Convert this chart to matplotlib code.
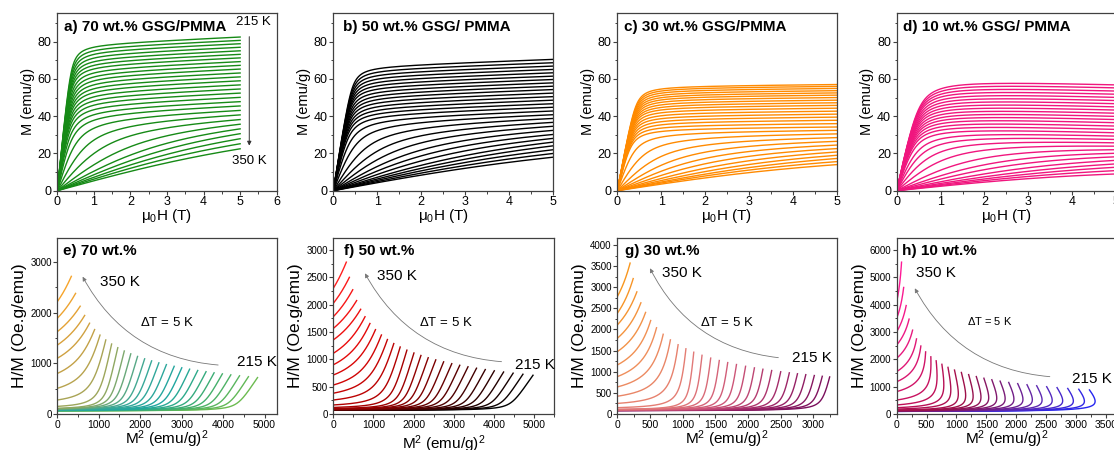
import numpy as np
import matplotlib
matplotlib.use("Agg")
import matplotlib.pyplot as plt
from matplotlib.colors import LinearSegmentedColormap
from matplotlib.ticker import MultipleLocator
from matplotlib.patches import FancyArrowPatch

plt.rcParams['font.family'] = ['Liberation Sans', 'DejaVu Sans']
plt.rcParams['mathtext.fontset'] = 'custom'
plt.rcParams['mathtext.rm'] = 'Liberation Sans'
plt.rcParams['mathtext.it'] = 'Liberation Sans:italic'
plt.rcParams['mathtext.bf'] = 'Liberation Sans:bold'
plt.rcParams['mathtext.default'] = 'regular'

# ---------------------------------------------------------------- data
# isotherms from 215 K to 350 K in 5 K steps
temperatures = list(range(215, 351, 5))
FIELD_MAX_OE = 50000.0

# magnetization at 5 T (emu/g) and low-field H/M (Oe.g/emu), 215 K -> 350 K
m5_70_mh = [82.5, 80.7, 78.9, 77.0, 75.1, 73.2, 71.3, 69.3, 67.3, 65.3, 63.2, 61.1, 59.0, 56.8,
            54.6, 52.4, 50.1, 47.8, 45.5, 43.1, 40.7, 38.2, 35.7, 33.2, 30.6, 27.9, 25.2, 22.5]
hm0_70_mh = [52, 53, 54, 55, 56, 57, 58, 60, 62, 64, 66, 68, 70, 73,
             76, 80, 86, 97, 115, 160, 260, 426, 672, 924, 1143, 1366, 1588, 1863]

m5_70_arrott = [69.5, 67.9, 66.3, 64.7, 63.1, 61.5, 59.9, 58.2, 56.5, 54.8, 53.1, 51.3, 49.5, 47.7,
                45.9, 44.0, 42.1, 40.2, 38.2, 36.2, 34.2, 32.1, 30.0, 27.9, 25.7, 23.5, 21.0, 18.4]
hm0_70_arrott = [63, 64, 65, 66, 67, 68, 70, 72, 74, 76, 78, 81, 84, 87,
                 90, 94, 99, 104, 113, 150, 276, 507, 800, 1100, 1360, 1625, 1890, 2217]

m5_50 = [70.5, 68.7, 66.9, 65.1, 63.3, 61.5, 59.7, 57.9, 56.1, 54.3, 52.4, 50.5, 48.6, 46.7,
         44.8, 42.8, 40.8, 38.8, 36.7, 34.6, 32.4, 30.2, 28.1, 26.1, 24.1, 22.0, 20.0, 18.0]
hm0_50 = [68, 69, 70, 71, 72, 73, 74, 76, 78, 80, 82, 85, 88, 92,
          100, 120, 165, 256, 380, 530, 713, 900, 1110, 1355, 1565, 1780, 2025, 2300]

m5_30 = [57.0, 56.0, 54.9, 53.7, 52.5, 51.3, 50.0, 48.6, 47.2, 45.8, 44.3, 42.7, 41.1, 39.5,
         37.8, 36.0, 34.2, 32.4, 30.5, 28.5, 26.5, 24.5, 22.6, 20.8, 19.0, 17.3, 15.6, 14.0]
hm0_30 = [81, 82, 83, 84, 85, 86, 87, 88, 89, 90, 92, 94, 96, 99,
          102, 105, 110, 150, 250, 420, 640, 884, 1160, 1475, 1791, 2107, 2383, 2777]

m5_10 = [56.8, 55.2, 53.5, 51.8, 50.1, 48.4, 46.7, 45.0, 43.3, 41.6, 39.9, 38.2, 36.5, 34.7,
         32.9, 31.1, 29.3, 27.5, 25.7, 23.9, 22.0, 20.1, 18.2, 16.3, 14.4, 12.6, 10.8, 9.0]
hm0_10 = [95, 96, 97, 98, 100, 102, 104, 106, 108, 111, 114, 117, 121, 126,
          132, 145, 180, 230, 330, 510, 820, 1180, 1550, 2040, 2525, 3010, 3500, 4110]

# demagnetizing factor (Oe.g/emu) and high-field susceptibility (emu/g/Oe)
demag = {'70mh': 45, '70ar': 54, '50': 60, '30': 70, '10': 65}
chi_hf = {'70mh': 0.9e-4, '70ar': 0.75e-4, '50': 0.85e-4, '30': 0.2e-4, '10': -0.7e-4}

panel_titles_top = ['a) 70 wt.% GSG/PMMA', 'b) 50 wt.% GSG/ PMMA',
                    'c) 30 wt.% GSG/PMMA', 'd) 10 wt.% GSG/ PMMA']
panel_titles_bottom = ['e) 70 wt.%', 'f) 50 wt.%', 'g) 30 wt.%', 'h) 10 wt.%']

# ---------------------------------------------------------------- model
def langevin(x):
    x = np.asarray(x, float)
    out = np.empty_like(x)
    small = x < 1e-4
    out[small] = x[small] / 3.0
    xs = x[~small]
    out[~small] = 1.0 / np.tanh(xs) - 1.0 / xs
    return out


def isotherm(m_end, hm0, n_d, chi):
    """M(H) curve through M(5 T)=m_end with low-field H/M=hm0."""
    hi_end = FIELD_MAX_OE - n_d * m_end
    k = 1.0 / (hm0 - n_d) - chi
    target = m_end - chi * hi_end
    lo, hi = np.log(1e-2), np.log(1e8)
    for _ in range(200):
        mid = 0.5 * (lo + hi)
        h0 = np.exp(mid)
        val = 3 * k * h0 * langevin(np.array([hi_end / h0]))[0]
        if val < target:
            lo = mid
        else:
            hi = mid
    h0 = np.exp(0.5 * (lo + hi))
    ms = 3 * k * h0
    hi_grid = np.concatenate([[0.0], np.geomspace(0.5, hi_end, 700)])
    m = ms * langevin(hi_grid / h0) + chi * hi_grid
    h = hi_grid + n_d * m
    return h, m


# ---------------------------------------------------------------- figure
W, H = 1114, 450
fig = plt.figure(figsize=(W / 100, H / 100), dpi=100)


def px_axes(left, top, width, height):
    return fig.add_axes([left / W, 1 - (top + height) / H, width / W, height / H])


FRAME = '#404040'


def style(ax, xt, yt, fs_x, fs_y):
    for s in ax.spines.values():
        s.set_color(FRAME)
        s.set_linewidth(0.9)
    ax.tick_params(which='both', direction='out', color=FRAME, top=False, right=False)
    ax.tick_params(which='major', length=3, width=0.8, pad=1)
    ax.tick_params(which='minor', length=1.8, width=0.7)
    ax.tick_params(axis='x', labelsize=fs_x)
    ax.tick_params(axis='y', labelsize=fs_y)
    ax.xaxis.set_major_locator(MultipleLocator(xt[0]))
    ax.xaxis.set_minor_locator(MultipleLocator(xt[1]))
    ax.yaxis.set_major_locator(MultipleLocator(yt[0]))
    ax.yaxis.set_minor_locator(MultipleLocator(yt[1]))


top_lefts = [57.3, 333.3, 617.3, 896.7]
top_specs = [
    (m5_70_mh, hm0_70_mh, '70mh', '#168a16', 6.0),
    (m5_50, hm0_50, '50', '#000000', 5.0),
    (m5_30, hm0_30, '30', '#ff8a00', 5.0),
    (m5_10, hm0_10, '10', '#f0167e', 5.0),
]
title_dx = [6.7, 9.4, 6.7, 6.0]

for i, (m5s, hm0s, key, col, xmax) in enumerate(top_specs):
    width = 219.4 if i != 1 else 220.0
    ax = px_axes(top_lefts[i], 13, width, 177.7)
    for m5, hm0 in zip(m5s, hm0s):
        h, m = isotherm(m5, hm0, demag[key], chi_hf[key])
        ax.plot(h / 1e4, m, color=col, lw=1.0)
    ax.set_xlim(0, xmax)
    ax.set_ylim(0, 95.4)
    style(ax, (1, 0.5), (20, 10), 9, 9)
    ax.set_xlabel(r'$\mu_0$H (T)', fontsize=11, labelpad=-1)
    ax.set_ylabel('M (emu/g)', fontsize=10.5, labelpad=2)
    ax.text(title_dx[i] / width, 0.921, panel_titles_top[i], transform=ax.transAxes,
            fontsize=11, fontweight='bold', va='center', ha='left')
    if i == 0:
        ax.text(4.88, 90.4, '215 K', fontsize=9.5, va='center', ha='left')
        ax.text(4.79, 16.1, '350 K', fontsize=9.5, va='center', ha='left')
        ax.annotate('', xy=(5.25, 24.2), xytext=(5.25, 82.7),
                    arrowprops=dict(arrowstyle='-|>', lw=0.7, color='#333333',
                                    mutation_scale=6, shrinkA=0, shrinkB=0))

# Arrott plots
bottom_specs = [
    (m5_70_arrott, hm0_70_arrott, '70ar',
     ['#6cbb50', '#3fae70', '#20a6a0', '#3aa898', '#8fa862', '#c9a044', '#f7a42a'],
     (0, 5290), (0, 3480), (1000, 500), (1000, 500), 219.3),
    (m5_50, hm0_50, '50',
     ['#000000', '#3c0000', '#7a0000', '#b40000', '#e80a0a', '#ff1e1e'],
     (0, 5500), (0, 3225), (1000, 500), (500, 250), 221.0),
    (m5_30, hm0_30, '30',
     ['#7a0f5c', '#a02868', '#cc5578', '#e27a78', '#f09058', '#f8961e'],
     (0, 3355), (0, 4172), (500, 250), (500, 250), 219.3),
    (m5_10, hm0_10, '10',
     ['#2626f0', '#5a2ab8', '#7a1c78', '#9a1048', '#c01058', '#e4197a', '#ff1a96'],
     (0, 3670), (0, 6450), (500, 250), (1000, 500), 219.3),
]
bottom_title_dx = [6.0, 10.7, 7.7, 5.0]
bottom_xlabel_pad = [-0.5, 2.5, -0.5, -0.5]
labels_350 = [(1030, 2612), (1078, 2530), (679, 3345), (331, 5146)]
labels_dt = [(2000, 1803, 9.5), (2139, 1670, 9.5), (1265, 2162, 9.5), (1174, 3402, 8)]
labels_215 = [(4340, 1033), (4527, 896), (2679, 1333), (2938, 1268)]
arrows = [((3880, 967), (611, 2710)), ((4187, 957), (788, 2573)),
          ((2464, 1333), (500, 3448)), ((2563, 1366), (303, 4598))]

for i, (m5s, hm0s, key, cols, xl, yl, xt, yt, width) in enumerate(bottom_specs):
    ax = px_axes(top_lefts[i], 237.7, width, 176.3)
    cmap = LinearSegmentedColormap.from_list('c%d' % i, cols)
    n = len(temperatures)
    for j, (m5, hm0) in enumerate(zip(m5s, hm0s)):
        h, m = isotherm(m5, hm0, demag[key], chi_hf[key])
        ax.plot(m[1:] ** 2, h[1:] / m[1:], color=cmap(j / (n - 1)), lw=1.0)
    ax.set_xlim(*xl)
    ax.set_ylim(*yl)
    style(ax, xt, yt, 7.5, 7)
    ax.set_xlabel(r'M$^2$ (emu/g)$^2$', fontsize=11, labelpad=bottom_xlabel_pad[i])
    ax.set_ylabel('H/M (Oe.g/emu)', fontsize=12.5, labelpad=2)
    ax.text(bottom_title_dx[i] / width, 0.925, panel_titles_bottom[i], transform=ax.transAxes,
            fontsize=11, fontweight='bold', va='center', ha='left')
    ax.text(*labels_350[i], '350 K', fontsize=11, va='center', ha='left')
    x, y, fs = labels_dt[i]
    ax.text(x, y, r'$\Delta$T = 5 K', fontsize=fs, va='center', ha='left')
    ax.text(*labels_215[i], '215 K', fontsize=11, va='center', ha='left')
    tail, head = arrows[i]
    ax.add_patch(FancyArrowPatch(tail, head, connectionstyle='arc3,rad=-0.27',
                                 arrowstyle='-|>', mutation_scale=6, lw=0.6,
                                 color='#777777', shrinkA=0, shrinkB=0))

fig.savefig('out.png', dpi=100)
